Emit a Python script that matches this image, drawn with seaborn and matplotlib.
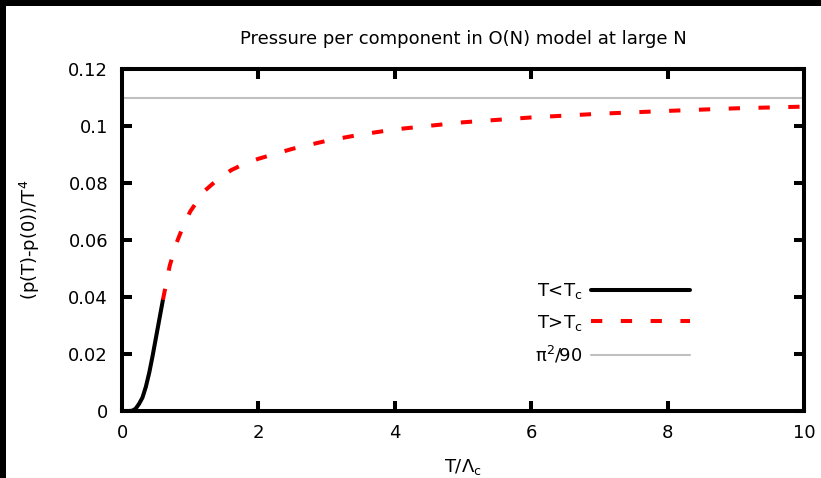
import numpy as np
import pandas as pd
import matplotlib
matplotlib.use("Agg")
import matplotlib.pyplot as plt
from matplotlib.patches import Rectangle
import seaborn as sns

# Low-temperature branch (T < T_c)
t_below = [0.0, 0.1, 0.15, 0.2, 0.25, 0.3, 0.35, 0.4, 0.45, 0.5, 0.55, 0.6]
p_below = [0.0, 0.0, 0.0001, 0.0008, 0.0025, 0.0047, 0.0085, 0.0135, 0.0195, 0.026, 0.0325, 0.039]

# High-temperature branch (T > T_c)
t_above = [0.6, 0.7, 0.8, 0.9, 1.0, 1.2, 1.4, 1.6, 1.8, 2.0, 2.5, 3.0, 3.5, 4.0,
           5.0, 6.0, 7.0, 8.0, 9.0, 10.0]
p_above = [0.039, 0.051, 0.059, 0.065, 0.0700, 0.0770, 0.0812, 0.0845, 0.0868, 0.0885,
           0.0920, 0.0948, 0.0970, 0.0988, 0.1013, 0.1030, 0.1043, 0.1053, 0.1062, 0.1068]

# Stefan-Boltzmann limit per component
sb_limit = np.pi ** 2 / 90

x_ticks = [0, 2, 4, 6, 8, 10]
y_ticks = [0, 0.02, 0.04, 0.06, 0.08, 0.1, 0.12]
y_tick_labels = ["0", "0.02", "0.04", "0.06", "0.08", "0.1", "0.12"]

sns.set_theme(style="white")
plt.rcParams["font.family"] = ["DejaVu Sans"]
plt.rcParams["mathtext.default"] = "regular"
FS = 13

W, H = 821, 478
fig = plt.figure(figsize=(W / 100, H / 100), dpi=100, facecolor="black")
fig.patches.append(Rectangle((6 / W, 0), 1, (H - 6) / H, transform=fig.transFigure,
                             facecolor="white", edgecolor="none", zorder=-1))
ax = fig.add_axes([122 / W, (H - 411) / H, (804 - 122) / W, (411 - 69) / H])
ax.set_facecolor("white")

df_below = pd.DataFrame({"T": t_below, "p": p_below})
df_above = pd.DataFrame({"T": t_above, "p": p_above})
df_sb = pd.DataFrame({"T": [0, 10], "p": [sb_limit, sb_limit]})

sns.lineplot(data=df_below, x="T", y="p", ax=ax, color="black", linewidth=2.9,
             label="T<T$_{c}$", zorder=3)
sns.lineplot(data=df_above, x="T", y="p", ax=ax, color="#ff0000", linewidth=2.9,
             dashes=False, label="T>T$_{c}$", zorder=3)
ax.lines[-1].set_dashes((2.8, 4.6))
sns.lineplot(data=df_sb, x="T", y="p", ax=ax, color="#c0c0c0", linewidth=1.5,
             label="π$^{2}$/90", zorder=2)

ax.set_xlim(0, 10)
ax.set_ylim(0, 0.12)
ax.set_xticks(x_ticks)
ax.set_xticklabels([str(v) for v in x_ticks])
ax.set_yticks(y_ticks)
ax.set_yticklabels(y_tick_labels)

for s in ax.spines.values():
    s.set_visible(True)
    s.set_linewidth(2.9)
    s.set_color("black")
    s.set_zorder(5)
ax.tick_params(axis="both", which="both", direction="in", length=7.5, width=2.9,
               color="black", top=True, right=True, bottom=True, left=True,
               labelsize=FS, labelcolor="black")
ax.tick_params(axis="x", pad=9)
ax.tick_params(axis="y", pad=10)

ax.set_xlabel("T/Λ$_{c}$", fontsize=FS, color="black", labelpad=11)
ax.set_ylabel("(p(T)-p(0))/T$^{4}$", fontsize=FS, color="black", labelpad=19)
ax.set_title("Pressure per component in O(N) model at large N", fontsize=FS,
             color="black", pad=18)

leg = ax.legend(loc="upper right", bbox_to_anchor=(690 / W, (H - 281) / H),
                bbox_transform=fig.transFigure, frameon=False, markerfirst=False,
                fontsize=FS, handlelength=5.5, handletextpad=0.45,
                labelspacing=0.65, borderpad=0, borderaxespad=0)
for txt in leg.get_texts():
    txt.set_color("black")

fig.savefig("out.png", dpi=100, facecolor=fig.get_facecolor())
